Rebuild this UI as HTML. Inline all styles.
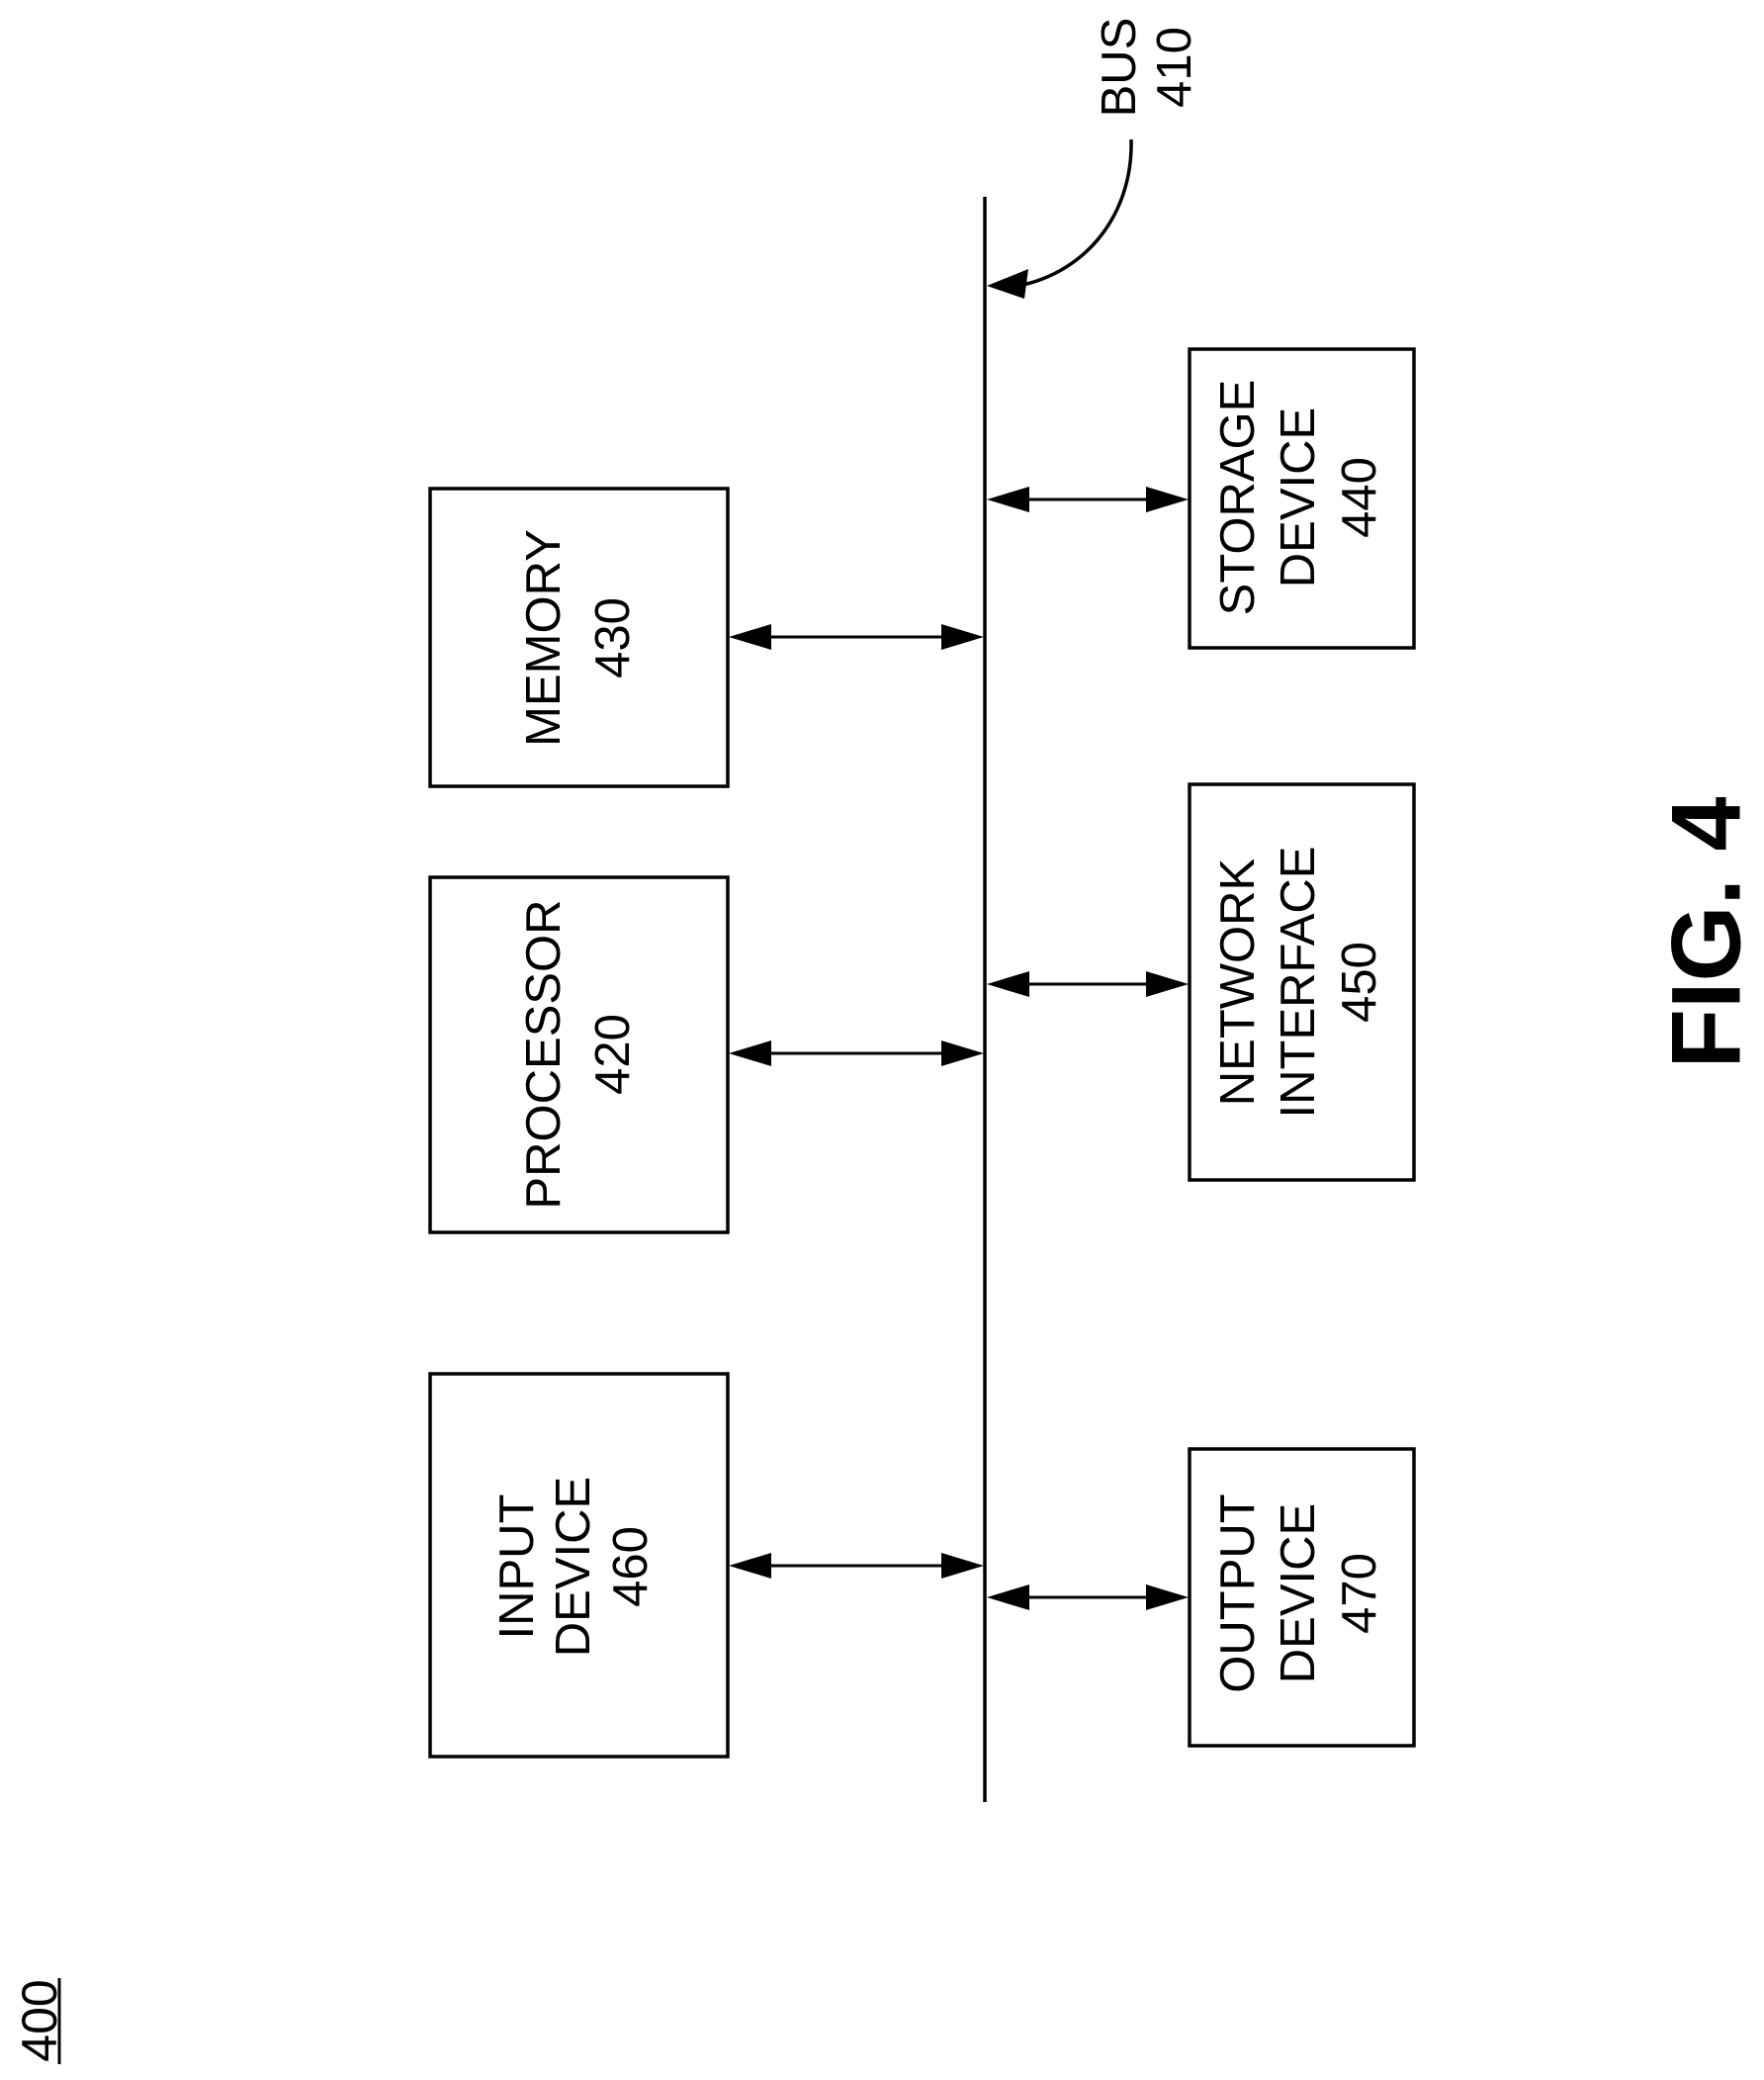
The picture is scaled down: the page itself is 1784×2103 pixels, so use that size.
<!DOCTYPE html>
<html><head><meta charset="utf-8"><style>html,body{margin:0;padding:0;background:#fff}svg{display:block}</style></head>
<body>
<svg width="1784" height="2103" viewBox="0 0 1784 2103" xmlns="http://www.w3.org/2000/svg" font-family="Liberation Sans, Arial, sans-serif" fill="none" stroke="#000">
<defs>
<marker id="a" viewBox="0 0 10 10" refX="10" refY="5" markerWidth="10" markerHeight="10" markerUnits="userSpaceOnUse" orient="auto-start-reverse" style="overflow:visible">
<path d="M0,0 L10,5 L0,10 z" fill="#000" stroke="none" transform="scale(4.2,2.6) translate(-0,-3)"/>
</marker>
</defs>
<g stroke-width="3.5">
<line x1="996" y1="199" x2="996" y2="1822"/>
<rect x="435" y="494" width="301" height="301"/>
<rect x="435" y="887" width="301" height="359"/>
<rect x="435" y="1389" width="301" height="387"/>
<rect x="1203" y="353" width="227" height="302"/>
<rect x="1203" y="793" width="227" height="400"/>
<rect x="1203" y="1465" width="227" height="300"/>
</g>
<g stroke-width="3" fill="#000">
<!-- arrows: line + triangles -->
<line x1="770" y1="644" x2="962" y2="644"/>
<line x1="770" y1="1065" x2="962" y2="1065"/>
<line x1="770" y1="1583" x2="962" y2="1583"/>
<line x1="1030" y1="505" x2="1170" y2="505"/>
<line x1="1030" y1="995" x2="1170" y2="995"/>
<line x1="1030" y1="1615" x2="1170" y2="1615"/>
</g>
<g fill="#000" stroke="none">
<polygon points="737,644 780,631 780,657"/><polygon points="995,644 952,631 952,657"/>
<polygon points="737,1065 780,1052 780,1078"/><polygon points="995,1065 952,1052 952,1078"/>
<polygon points="737,1583 780,1570 780,1596"/><polygon points="995,1583 952,1570 952,1596"/>
<polygon points="998,505 1041,492 1041,518"/><polygon points="1202,505 1159,492 1159,518"/>
<polygon points="998,995 1041,982 1041,1008"/><polygon points="1202,995 1159,982 1159,1008"/>
<polygon points="998,1615 1041,1602 1041,1628"/><polygon points="1202,1615 1159,1602 1159,1628"/>
<polygon points="998,289 1040,272 1036,302"/>
</g>
<path d="M1144,141 C1146,215 1100,275 1030,289" stroke-width="3.5"/>
<g fill="#000" stroke="none" font-size="49" text-anchor="middle" dominant-baseline="central">
<text transform="translate(550,645) rotate(-90)">MEMORY</text>
<text transform="translate(620,645) rotate(-90)">430</text>
<text transform="translate(550,1066) rotate(-90)">PROCESSOR</text>
<text transform="translate(620,1066) rotate(-90)">420</text>
<text transform="translate(523,1584) rotate(-90)">INPUT</text>
<text transform="translate(580,1584) rotate(-90)">DEVICE</text>
<text transform="translate(638,1584) rotate(-90)">460</text>
<text transform="translate(1252,503) rotate(-90)">STORAGE</text>
<text transform="translate(1313,503) rotate(-90)">DEVICE</text>
<text transform="translate(1375,503) rotate(-90)">440</text>
<text transform="translate(1252,993) rotate(-90)">NETWORK</text>
<text transform="translate(1313,993) rotate(-90)">INTERFACE</text>
<text transform="translate(1375,993) rotate(-90)">450</text>
<text transform="translate(1252,1611) rotate(-90)">OUTPUT</text>
<text transform="translate(1313,1611) rotate(-90)">DEVICE</text>
<text transform="translate(1375,1611) rotate(-90)">470</text>
<text transform="translate(1132,68) rotate(-90)">BUS</text>
<text transform="translate(1188,68) rotate(-90)">410</text>
<text transform="translate(1725,943) rotate(-90)" font-size="99" font-weight="bold">FIG. 4</text>
<text transform="translate(40,2043) rotate(-90)" font-size="50">400</text>
</g>
<line x1="60" y1="2000" x2="60" y2="2087" stroke-width="3"/>
</svg>
</body></html>
